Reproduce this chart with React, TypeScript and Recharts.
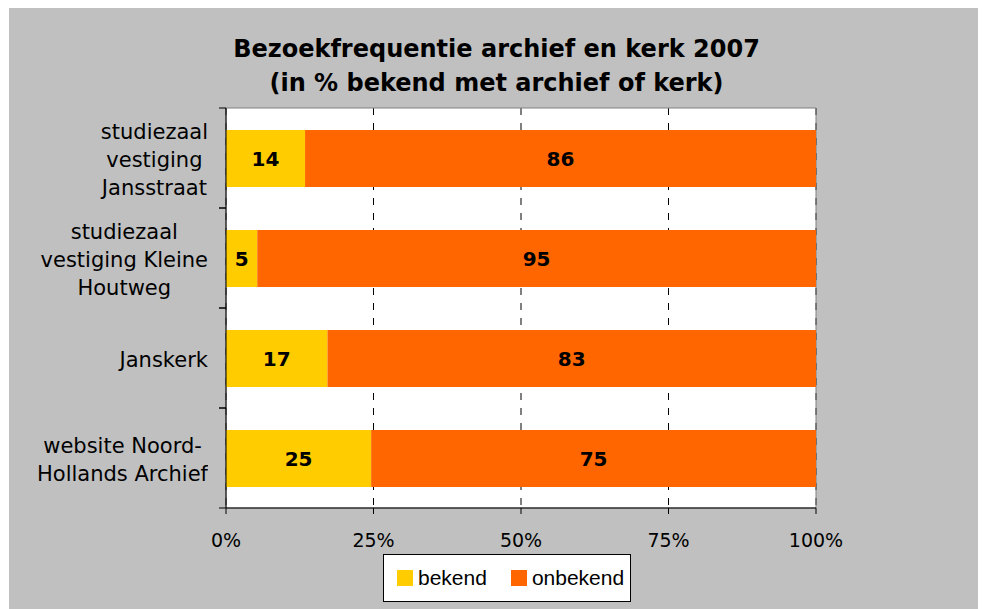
import { BarChart, Bar, XAxis, YAxis, CartesianGrid, LabelList, Legend, ReferenceArea } from "recharts";

const categories = [
  "studiezaal\nvestiging\nJansstraat",
  "studiezaal\nvestiging Kleine\nHoutweg",
  "Janskerk",
  "website Noord-\nHollands Archief",
];
// bar lengths as drawn (share of 100%)
const bekend = [13.4, 5.3, 17.2, 24.6];
const onbekend = [86.6, 94.7, 82.8, 75.4];
// numbers printed inside the bars
const bekendLabels = [14, 5, 17, 25];
const onbekendLabels = [86, 95, 83, 75];
const xTicks = [0, 25, 50, 75, 100];

const data = categories.map((name, i) => ({
  name,
  bekend: bekend[i],
  onbekend: onbekend[i],
  bekendLabel: bekendLabels[i],
  onbekendLabel: onbekendLabels[i],
}));

const YELLOW = "#ffcc00";
const ORANGE = "#ff6600";
const FONT = "'DejaVu Sans', Verdana, sans-serif";

// plot area in chart coordinates
const PLOT_LEFT = 217;
const BAND = 100;

function CategoryTick({ y, payload }: any) {
  const lines = String(payload.value).split("\n");
  const h = lines.length * 28;
  return (
    <g>
      <line x1={PLOT_LEFT - 7} x2={PLOT_LEFT} y1={y - BAND / 2} y2={y - BAND / 2} stroke="#000" />
      <line x1={PLOT_LEFT - 7} x2={PLOT_LEFT} y1={y + BAND / 2} y2={y + BAND / 2} stroke="#000" />
      <foreignObject x={0} y={y - h / 2 + 2} width={199} height={h}>
        <div style={{ display: "flex", justifyContent: "flex-end" }}>
          <div style={{ textAlign: "center", fontFamily: FONT, fontSize: 21, lineHeight: "28px", color: "#000", whiteSpace: "nowrap" }}>
            {lines.map((l) => (
              <div key={l}>{l}</div>
            ))}
          </div>
        </div>
      </foreignObject>
    </g>
  );
}

function LegendBox() {
  const item = (color: string, label: string) => (
    <div style={{ display: "flex", alignItems: "center", marginRight: 24 }}>
      <div style={{ width: 16, height: 16, background: color, marginRight: 5 }} />
      <span style={{ fontFamily: "'Liberation Sans', Arial, sans-serif", fontSize: 21, color: "#000" }}>{label}</span>
    </div>
  );
  return (
    <div
      style={{
        boxSizing: "border-box",
        width: 248,
        height: 48,
        background: "#fff",
        border: "1px solid #000",
        display: "flex",
        alignItems: "center",
        paddingLeft: 13,
      }}
    >
      {item(YELLOW, "bekend")}
      {item(ORANGE, "onbekend")}
    </div>
  );
}

export default function App() {
  return (
    <div style={{ position: "relative", marginLeft: 1, width: 977, height: 601, background: "#c0c0c0" }}>
      <div
        style={{
          position: "absolute",
          top: 24,
          left: 0,
          width: 975,
          textAlign: "center",
          fontFamily: FONT,
          fontWeight: "bold",
          fontSize: 24,
          lineHeight: "34px",
          color: "#000",
        }}
      >
        Bezoekfrequentie archief en kerk 2007
        <br />
        (in % bekend met archief of kerk)
      </div>
      <BarChart
        width={977}
        height={601}
        data={data}
        layout="vertical"
        margin={{ top: 100, right: 170, bottom: 61, left: 0 }}
        barSize={57}
      >
        <CartesianGrid horizontal={false} stroke="#000" strokeDasharray="7 8" fill="#fff" fillOpacity={1} />
        <XAxis
          type="number"
          domain={[0, 100]}
          ticks={xTicks}
          tickFormatter={(v) => `${v}%`}
          axisLine={{ stroke: "#000" }}
          tickLine={{ stroke: "#000" }}
          tickSize={6}
          tickMargin={20}
          height={40}
          tick={{ fill: "#000", fontFamily: FONT, fontSize: 19 }}
        />
        <YAxis
          type="category"
          dataKey="name"
          width={217}
          axisLine={{ stroke: "#000" }}
          tickLine={false}
          tick={<CategoryTick />}
          interval={0}
        />
        <Bar dataKey="bekend" stackId="a" fill={YELLOW} isAnimationActive={false}>
          <LabelList dataKey="bekendLabel" position="center" fill="#000" fontFamily={FONT} fontWeight="bold" fontSize={20} />
        </Bar>
        <Bar dataKey="onbekend" stackId="a" fill={ORANGE} isAnimationActive={false}>
          <LabelList dataKey="onbekendLabel" position="center" fill="#000" fontFamily={FONT} fontWeight="bold" fontSize={20} />
        </Bar>
        <ReferenceArea x1={0} x2={100} fill="none" stroke="#808080" strokeWidth={1} ifOverflow="visible" />
        <Legend
          verticalAlign="middle"
          layout="horizontal"
          content={() => <LegendBox />}
          wrapperStyle={{ top: 546, left: 374, width: 248, height: 48 }}
        />
      </BarChart>
    </div>
  );
}
